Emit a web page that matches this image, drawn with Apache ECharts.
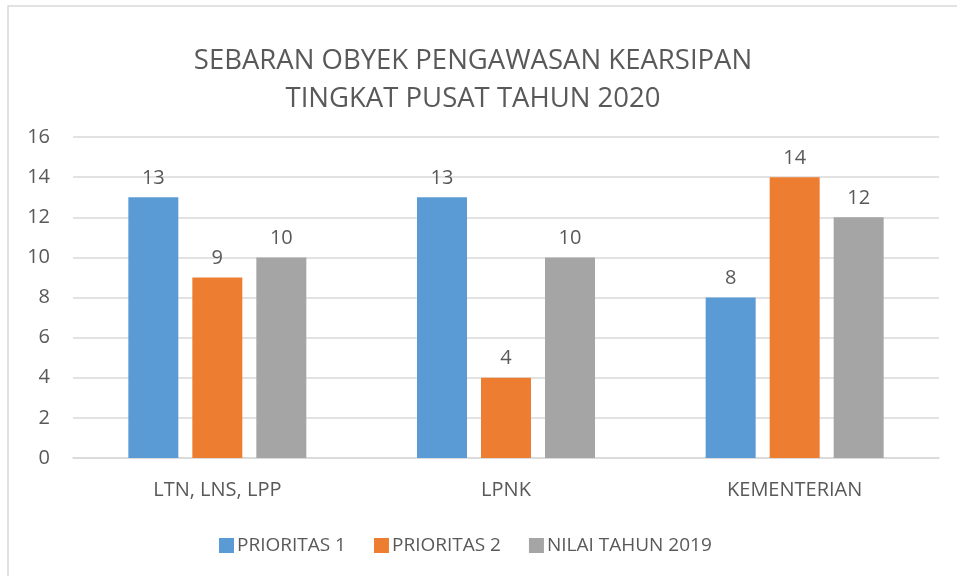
<!DOCTYPE html>
<html>
<head>
<meta charset="utf-8">
<script src="https://cdn.jsdelivr.net/npm/echarts@6/dist/echarts.min.js"></script>
<style>
  html, body { margin: 0; padding: 0; background: #fff; }
  #chart { width: 957px; height: 576px; }
</style>
</head>
<body>
<div id="chart"></div>
<script>
// data
const categories = ["LTN, LNS, LPP", "LPNK", "KEMENTERIAN"];
const prioritas1 = [13, 13, 8];
const prioritas2 = [9, 4, 14];
const nilai2019 = [10, 10, 12];
const seriesNames = ["PRIORITAS 1", "PRIORITAS 2", "NILAI TAHUN 2019"];
const colors = ["#5B9BD5", "#ED7D31", "#A5A5A5"];

const font = "'Open Sans', 'Noto Sans', sans-serif";
const textColor = "#595959";

const chart = echarts.init(document.getElementById("chart"));

function barSeries(name, data, color) {
  return {
    name: name,
    type: "bar",
    data: data,
    barWidth: 50,
    barGap: "28%",
    itemStyle: { color: color },
    label: {
      show: true,
      position: "top",
      distance: 9,
      color: textColor,
      fontSize: 20,
      fontFamily: font
    }
  };
}

chart.setOption({
  animation: false,
  color: colors,
  graphic: [{
    type: "rect",
    shape: { x: 8, y: 6, width: 1000, height: 700 },
    style: { fill: "none", stroke: "#d9d9d9", lineWidth: 1.5 },
    silent: true
  }],
  title: {
    text: "SEBARAN OBYEK PENGAWASAN KEARSIPAN\nTINGKAT PUSAT TAHUN 2020",
    left: 468,
    textAlign: "center",
    top: 37,
    textStyle: {
      color: textColor,
      fontSize: 27.5,
      fontWeight: "normal",
      fontFamily: font,
      lineHeight: 38
    }
  },
  legend: {
    bottom: 16,
    left: 214,
    itemWidth: 15,
    itemHeight: 15,
    itemGap: 28,
    icon: "rect",
    textStyle: { color: textColor, fontSize: 19, fontFamily: font, padding: [0, 0, 0, -2] },
    data: seriesNames
  },
  grid: {
    left: 73,
    right: 18,
    top: 137,
    bottom: 118
  },
  xAxis: {
    type: "category",
    data: categories,
    axisLine: { lineStyle: { color: "#d9d9d9", width: 1.5 } },
    axisTick: { show: false },
    axisLabel: {
      color: textColor,
      fontSize: 20,
      fontFamily: font,
      margin: 22
    }
  },
  yAxis: {
    type: "value",
    min: 0,
    max: 16,
    interval: 2,
    axisLine: { show: false },
    axisTick: { show: false },
    splitLine: { lineStyle: { color: "#d9d9d9", width: 1.5 } },
    axisLabel: {
      color: textColor,
      fontSize: 20,
      fontFamily: font,
      margin: 23
    }
  },
  series: [
    barSeries(seriesNames[0], prioritas1, colors[0]),
    barSeries(seriesNames[1], prioritas2, colors[1]),
    barSeries(seriesNames[2], nilai2019, colors[2])
  ]
});
</script>
</body>
</html>
